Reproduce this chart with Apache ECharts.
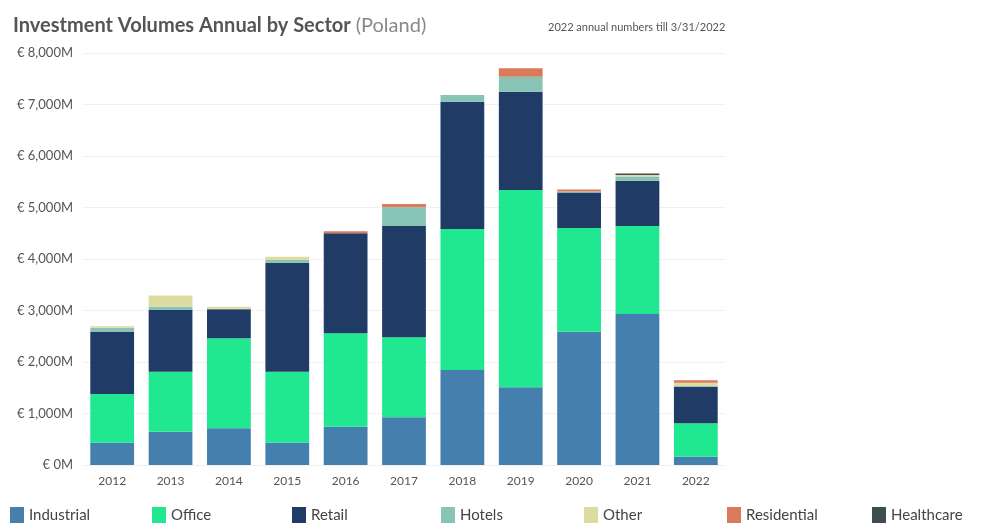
<!DOCTYPE html>
<html>
<head>
<meta charset="utf-8">
<script src="https://cdn.jsdelivr.net/npm/echarts@6/dist/echarts.min.js"></script>
<style>
  html, body { margin: 0; padding: 0; background: #fff; }
  #chart { width: 987px; height: 527px; }
</style>
</head>
<body>
<div id="chart"></div>
<script>
// data, in € millions
const years = ["2012", "2013", "2014", "2015", "2016", "2017", "2018", "2019", "2020", "2021", "2022"];
const industrial  = [433, 647, 712, 433, 744, 926, 1845, 1509, 2589, 2932, 161];
const office      = [946, 1165, 1748, 1379, 1813, 1553, 2738, 3831, 2014, 1709, 649];
const retail      = [1204, 1198, 563, 2117, 1942, 2161, 2472, 1909, 686, 880, 711];
const hotels      = [80, 65, 10, 52, 0, 364, 130, 291, 20, 80, 15];
const other       = [30, 214, 40, 64, 0, 0, 0, 0, 0, 30, 60];
const residential = [0, 0, 0, 0, 40, 64, 0, 163, 40, 0, 50];
const healthcare  = [0, 0, 0, 0, 0, 0, 0, 0, 0, 30, 0];
const yTicks = [0, 1000, 2000, 3000, 4000, 5000, 6000, 7000, 8000];

const seriesNames = ["Industrial", "Office", "Retail", "Hotels", "Other", "Residential", "Healthcare"];
const seriesData = [industrial, office, retail, hotels, other, residential, healthcare];
const colors = ["#457fad", "#1fe891", "#213b67", "#87c4b5", "#dedb9e", "#db7a5a", "#3e4d50"];

const chart = echarts.init(document.getElementById("chart"));

const series = seriesNames.map((name, i) => ({
  name: name,
  type: "bar",
  stack: "total",
  barCategoryGap: "25%",
  itemStyle: { color: colors[i] },
  emphasis: { disabled: true },
  data: seriesData[i],
}));

// legend items are evenly spaced, so one legend per item
const legendLeft = [10, 152, 292, 441, 584, 727, 872];
const legends = seriesNames.map((name, i) => ({
  data: [name],
  left: legendLeft[i],
  top: 507,
  padding: 0,
  itemWidth: 14,
  itemHeight: 16,
  icon: "rect",
  selectedMode: false,
  textStyle: { fontSize: 15, color: "#444", fontFamily: "Lato" },
}));

const option = {
  animation: false,
  title: [
    {
      text: "{b|Investment Volumes Annual by Sector} {n|(Poland)}",
      left: 8,
      top: 11,
      textStyle: {
        rich: {
          b: { fontSize: 20, fontWeight: "bold", color: "#555", fontFamily: "Lato" },
          n: { fontSize: 20, fontWeight: "normal", color: "#888", fontFamily: "Lato" },
        },
      },
    },
    {
      text: "2022 annual numbers till 3/31/2022",
      left: 543,
      top: 17,
      textStyle: { fontSize: 11, fontWeight: "normal", color: "#555", fontFamily: "Lato" },
    },
  ],
  legend: legends,
  grid: { left: 83, right: 262, top: 53, bottom: 62 },
  xAxis: {
    type: "category",
    data: years,
    axisLine: { show: false },
    axisTick: { show: false },
    axisLabel: { color: "#555", fontSize: 12, margin: 10, fontFamily: "Lato" },
  },
  yAxis: {
    type: "value",
    min: yTicks[0],
    max: yTicks[yTicks.length - 1],
    interval: 1000,
    axisLine: { show: false },
    axisTick: { show: false },
    splitLine: { lineStyle: { color: "#f1f1f1" } },
    axisLabel: {
      color: "#555",
      fontSize: 13,
      margin: 10,
      fontFamily: "Lato",
      formatter: (v) => "€ " + v.toLocaleString("en-US") + "M",
    },
  },
  series: series,
};

chart.setOption(option);
</script>
</body>
</html>
